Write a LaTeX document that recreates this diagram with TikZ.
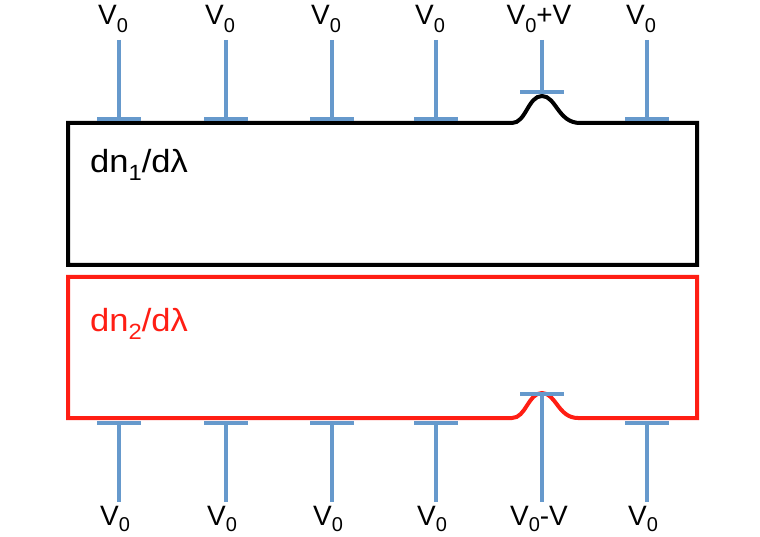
\documentclass[tikz,border=0pt]{standalone}
\usepackage{fontspec}
\setmainfont{Liberation Sans}
\definecolor{pinblue}{RGB}{102,153,204}
\definecolor{boxred}{RGB}{255,30,20}
\newcommand{\mysub}[3]{\raisebox{-#2}{\fontsize{#3}{#3}\selectfont #1}}
\newcommand{\vlabtext}[1]{\fontsize{28}{32}\selectfont #1}
\newcommand{\biglabtext}[1]{\scalebox{1.08}[1]{\fontsize{32}{36}\selectfont #1}}
\begin{document}
\begin{tikzpicture}[x=1pt,y=-1pt,
  pin/.style={draw=pinblue,line width=4pt},
  vlab/.style={anchor=base,inner sep=0pt},
  boxline/.style={line width=4pt,line join=miter},
  biglab/.style={anchor=base west,inner sep=0pt}]
\useasboundingbox (0,0) rectangle (760,537);
% black box with bump
\coordinate (b1) at (512,123);
\coordinate (bp) at (542,96);
\coordinate (b2) at (580,123);
\draw[boxline,black] (b1) -- (68,123) -- (68,265) -- (697,265) -- (697,123) -- (b2)
  .. controls (558,123) and (556,96) .. (bp) .. controls (528,96) and (526,123) .. (b1) -- cycle;
% red box with bump
\coordinate (r1) at (512,418);
\coordinate (rp) at (542,393);
\coordinate (r2) at (578,418);
\draw[boxline,boxred] (r1) -- (68,418) -- (68,277) -- (697,277) -- (697,418) -- (r2)
  .. controls (558,418) and (556,393) .. (rp) .. controls (528,393) and (526,418) .. (r1) -- cycle;
\node[biglab,black] (n1) at (90,173) {\biglabtext{dn\mysub{1}{8pt}{22}/dλ}};
\node[biglab,boxred] (n2) at (90,331) {\biglabtext{dn\mysub{2}{8pt}{22}/dλ}};
% top pins
\foreach \x/\i in {119/1,226/2,332/3,436/4,647/6}{
  \coordinate (tt\i) at (\x,40);
  \coordinate (tb\i) at (\x,119);
  \draw[pin] (tt\i) -- (tb\i);
  \draw[pin] ([xshift=-22pt]tb\i) -- ([xshift=22pt]tb\i);
  \node[vlab] (tl\i) at (\x-6,25) {\vlabtext{V\mysub{0}{8pt}{20}}};
}
\coordinate (tt5) at (542,40);
\coordinate (tb5) at (542,92);
\draw[pin] (tt5) -- (tb5);
\draw[pin] ([xshift=-22pt]tb5) -- ([xshift=22pt]tb5);
\node[vlab] (tl5) at (539,25) {\vlabtext{V\mysub{0}{8pt}{20}+V}};
% bottom pins
\foreach \x/\i in {119/1,226/2,332/3,436/4,647/6}{
  \coordinate (bt\i) at (\x,423);
  \coordinate (bb\i) at (\x,502);
  \draw[pin] (bt\i) -- (bb\i);
  \draw[pin] ([xshift=-22pt]bt\i) -- ([xshift=22pt]bt\i);
  \node[vlab] (bl\i) at (\x-4,525) {\vlabtext{V\mysub{0}{6pt}{20}}};
}
\coordinate (bt5) at (542,394);
\coordinate (bb5) at (542,502);
\draw[pin] (bt5) -- (bb5);
\draw[pin] ([xshift=-22pt]bt5) -- ([xshift=22pt]bt5);
\node[vlab] (bl5) at (539,525) {\vlabtext{V\mysub{0}{6pt}{20}-V}};
\end{tikzpicture}
\end{document}
